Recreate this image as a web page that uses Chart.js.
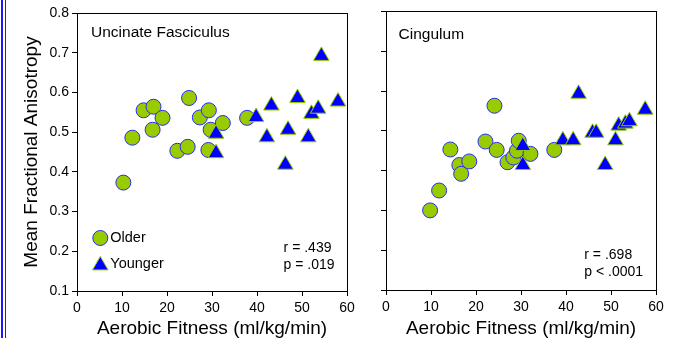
<!DOCTYPE html>
<html>
<head>
<meta charset="utf-8">
<script src="https://cdn.jsdelivr.net/npm/chart.js@4.4.1/dist/chart.umd.min.js"></script>
<style>
  body { margin: 0; width: 676px; height: 338px; background: #fff; position: relative; overflow: hidden; }
  .bar1 { position: absolute; left: 1px; top: 0; width: 2px; height: 338px; background: #1a1aff; }
  .bar2 { position: absolute; left: 5px; top: 0; width: 1px; height: 338px; background: #1a1aff; }
  #left { position: absolute; left: 0; top: 0; }
  #right { position: absolute; left: 340px; top: 0; }
</style>
</head>
<body>
<div class="bar1"></div>
<div class="bar2"></div>
<canvas id="left" width="360" height="338"></canvas>
<canvas id="right" width="336" height="338"></canvas>
<script>
// Uncinate Fasciculus
const ufOlderX = [10.3, 12.3, 14.8, 17.0, 19.0, 16.8, 22.3, 24.6, 24.9, 27.3, 29.3, 29.7, 32.4, 29.2, 37.8]
const ufOlderY = [0.373, 0.486, 0.555, 0.564, 0.536, 0.506, 0.453, 0.463, 0.586, 0.537, 0.555, 0.506, 0.523, 0.455, 0.536]
const ufYoungerX = [30.9, 30.9, 39.8, 43.2, 42.2, 46.3, 46.9, 49.0, 51.4, 52.1, 53.6, 54.3, 58.0]
const ufYoungerY = [0.496, 0.447, 0.538, 0.567, 0.487, 0.418, 0.506, 0.586, 0.487, 0.546, 0.559, 0.692, 0.577]

// Cingulum
const cgOlderX = [9.8, 11.8, 14.3, 16.3, 16.7, 18.5, 22.1, 24.1, 24.6, 27.0, 28.3, 29.1, 29.5, 32.1, 37.4]
const cgOlderY = [0.300, 0.350, 0.453, 0.414, 0.392, 0.423, 0.473, 0.563, 0.452, 0.421, 0.433, 0.450, 0.475, 0.442, 0.452]
const cgYoungerX = [30.4, 30.4, 39.3, 41.6, 42.8, 45.9, 46.7, 48.7, 51.0, 51.7, 53.2, 54.1, 57.6]
const cgYoungerY = [0.462, 0.414, 0.476, 0.476, 0.593, 0.495, 0.495, 0.414, 0.476, 0.513, 0.518, 0.524, 0.553]

const xTicks = [0, 10, 20, 30, 40, 50, 60]
const yTicks = [0.1, 0.2, 0.3, 0.4, 0.5, 0.6, 0.7, 0.8]

const FONT = "Liberation Sans, Arial, sans-serif"
const GREEN = '#99cc00'
const BLUE = '#0000ff'

function toPoints(xs, ys) {
    return xs.map((x, i) => ({ x: x, y: ys[i] }))
}

// draws frame, panel title, legend and stats text
const notesPlugin = {
    id: 'notes',
    afterDraw(chart) {
        const ctx = chart.ctx
        const a = chart.chartArea
        const n = chart.options.plugins.notes
        ctx.save()
        ctx.strokeStyle = '#000'
        ctx.lineWidth = 1
        ctx.strokeRect(Math.round(a.left) + 0.5, Math.round(a.top) + 0.5, Math.round(a.right - a.left), Math.round(a.bottom - a.top))

        ctx.fillStyle = '#000'
        ctx.textBaseline = 'middle'
        ctx.textAlign = 'left'
        ctx.font = `15.5px ${FONT}`
        ctx.fillText(n.title, a.left + n.titlePos[0], a.top + n.titlePos[1])

        ctx.font = `14px ${FONT}`
        ctx.fillText(n.r, a.left + n.statPos[0], a.top + n.statPos[1])
        ctx.fillText(n.p, a.left + n.statPos[0], a.top + n.statPos[1] + 17)

        if (n.legend) {
            ctx.fillStyle = GREEN
            ctx.strokeStyle = '#2a2aff'
            ctx.beginPath()
            ctx.arc(a.left + 23.3, a.top + 225, 7.5, 0, Math.PI * 2)
            ctx.fill()
            ctx.stroke()
            ctx.fillStyle = BLUE
            ctx.strokeStyle = GREEN
            Chart.helpers.drawPoint(ctx, { pointStyle: 'triangle', radius: 9, borderWidth: 1 }, a.left + 23.3, a.top + 252.4)
            ctx.fillStyle = '#000'
            ctx.font = `14.5px ${FONT}`
            ctx.fillText('Older', a.left + 33.3, a.top + 225)
            ctx.fillText('Younger', a.left + 33.3, a.top + 251)
        }
        ctx.restore()
    }
}

function makePanel(id, older, younger, opts) {
    const ctx = document.getElementById(id).getContext('2d')
    return new Chart(ctx, {
        type: 'scatter',
        data: {
            datasets: [{
                label: 'Younger',
                data: younger,
                order: 0,
                pointStyle: 'triangle',
                pointRadius: 9,
                pointBackgroundColor: BLUE,
                pointBorderColor: GREEN,
                pointBorderWidth: 1
            }, {
                label: 'Older',
                data: older,
                order: 1,
                pointStyle: 'circle',
                pointRadius: 7.5,
                pointBackgroundColor: GREEN,
                pointBorderColor: '#2a2aff',
                pointBorderWidth: 1
            }]
        },
        options: {
            responsive: false,
            animation: false,
            layout: { padding: { top: opts.top, right: opts.right, left: 0, bottom: 0 } },
            plugins: {
                legend: { display: false },
                tooltip: { enabled: false },
                notes: opts.notes
            },
            scales: {
                x: {
                    type: 'linear',
                    min: xTicks[0],
                    max: xTicks[xTicks.length - 1],
                    afterBuildTicks: s => { s.ticks = xTicks.map(v => ({ value: v })) },
                    afterFit: s => { s.height = opts.xHeight },
                    grid: { drawOnChartArea: false, tickLength: 5, color: '#000' },
                    border: { color: '#000' },
                    ticks: { color: '#000', padding: 4, font: { family: FONT, size: 14 }, maxRotation: 0 },
                    title: { display: true, text: 'Aerobic Fitness (ml/kg/min)', color: '#000', font: { family: FONT, size: 19, lineHeight: 1 }, padding: 0 }
                },
                y: {
                    type: 'linear',
                    min: yTicks[0],
                    max: yTicks[yTicks.length - 1],
                    afterBuildTicks: s => { s.ticks = yTicks.map(v => ({ value: v })) },
                    afterFit: s => { s.width = opts.yWidth },
                    grid: { drawOnChartArea: false, tickLength: 5, color: '#000' },
                    border: { color: '#000' },
                    ticks: {
                        color: '#000', padding: 3, font: { family: FONT, size: 14 },
                        callback: v => opts.yLabels ? v.toFixed(1) : ''
                    },
                    title: { display: opts.yLabels, text: 'Mean Fractional Anisotropy', color: '#000', font: { family: FONT, size: 19 }, padding: { top: 20, bottom: 0 } }
                }
            }
        },
        plugins: [notesPlugin]
    })
}

makePanel('left', toPoints(ufOlderX, ufOlderY), toPoints(ufYoungerX, ufYoungerY), {
    top: 13, right: 13, xHeight: 47, yWidth: 77, yLabels: true,
    notes: { title: 'Uncinate Fasciculus', titlePos: [14, 20], r: 'r = .439', p: 'p = .019', statPos: [206.6, 235], legend: true }
})

makePanel('right', toPoints(cgOlderX, cgOlderY), toPoints(cgYoungerX, cgYoungerY), {
    top: 10, right: 20, xHeight: 48, yWidth: 46, yLabels: false,
    notes: { title: 'Cingulum', titlePos: [12.6, 23], r: 'r = .698', p: 'p < .0001', statPos: [198.3, 243.3], legend: false }
})
</script>
</body>
</html>
